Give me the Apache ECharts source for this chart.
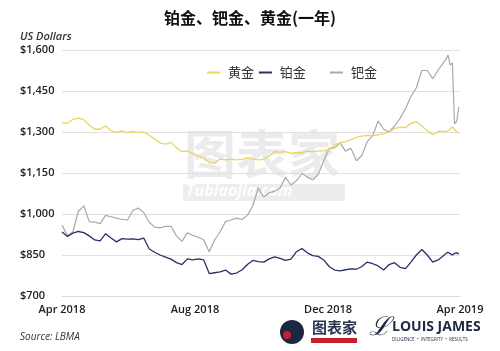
<!DOCTYPE html>
<html><head><meta charset="utf-8">
<script src="https://cdn.jsdelivr.net/npm/echarts@6/dist/echarts.min.js"></script>
<style>html,body{margin:0;padding:0;background:#fff}#c{width:500px;height:351px}</style>
</head><body><div id="c"></div>
<script>
const dates = ['2018-04-01','2018-04-06','2018-04-11','2018-04-16','2018-04-21','2018-04-26','2018-05-01','2018-05-06','2018-05-11','2018-05-16','2018-05-21','2018-05-26','2018-05-31','2018-06-05','2018-06-10','2018-06-15','2018-06-20','2018-06-25','2018-06-30','2018-07-05','2018-07-10','2018-07-15','2018-07-20','2018-07-25','2018-07-30','2018-08-04','2018-08-09','2018-08-14','2018-08-19','2018-08-24','2018-08-29','2018-09-03','2018-09-08','2018-09-13','2018-09-18','2018-09-23','2018-09-28','2018-10-03','2018-10-08','2018-10-13','2018-10-18','2018-10-23','2018-10-28','2018-11-02','2018-11-07','2018-11-12','2018-11-17','2018-11-22','2018-11-27','2018-12-02','2018-12-07','2018-12-12','2018-12-17','2018-12-22','2018-12-27','2019-01-01','2019-01-06','2019-01-11','2019-01-16','2019-01-21','2019-01-26','2019-01-31','2019-02-05','2019-02-10','2019-02-15','2019-02-20','2019-02-25','2019-03-02','2019-03-07','2019-03-12','2019-03-17','2019-03-19','2019-03-21','2019-03-23','2019-03-25','2019-03-27','2019-03-29','2019-03-31'];
const gold = [1334,1332,1346,1351,1345,1325,1310,1310,1322,1305,1299,1304,1298,1302,1298,1300,1288,1275,1260,1256,1262,1242,1228,1230,1222,1212,1205,1188,1186,1201,1198,1201,1198,1200,1205,1201,1198,1200,1212,1228,1226,1228,1222,1225,1224,1230,1228,1230,1232,1236,1252,1260,1265,1272,1280,1285,1288,1287,1290,1294,1300,1312,1318,1316,1332,1338,1322,1305,1290,1302,1302,1300,1306,1310,1318,1310,1300,1297];
const platinum = [934,918,930,936,932,920,905,902,928,912,898,910,908,909,906,912,872,860,850,842,835,822,815,836,832,836,832,782,785,788,795,780,784,795,815,830,826,824,836,843,838,830,835,862,874,858,848,845,832,808,795,792,796,799,798,808,824,818,810,795,815,822,805,800,824,850,870,850,824,832,848,855,860,855,850,856,858,854];
const palladium = [960,920,935,1010,1030,972,970,965,995,990,985,980,978,1013,1022,1005,970,952,949,955,955,920,900,931,922,915,905,862,905,935,972,978,985,980,995,1030,1095,1062,1078,1083,1095,1134,1106,1122,1148,1135,1125,1145,1195,1240,1242,1260,1230,1240,1195,1214,1265,1288,1340,1310,1300,1322,1350,1385,1430,1462,1525,1525,1495,1527,1555,1565,1582,1545,1553,1330,1340,1392];
const yTicks = [700,850,1000,1150,1300,1450,1600];
const xTicks = ['2018-04-01','2018-08-01','2018-12-01','2019-04-01'];
const MONTHS = ['Jan','Feb','Mar','Apr','May','Jun','Jul','Aug','Sep','Oct','Nov','Dec'];

function ts(s){const p=s.split('-').map(Number);return new Date(p[0],p[1]-1,p[2]).getTime();}
function pairs(vals){return dates.map((d,i)=>[ts(d),vals[i]]);}
const F = '"Open Sans","Noto Sans CJK SC",sans-serif';
const CJK = '"Noto Sans CJK SC",sans-serif';

const chart = echarts.init(document.getElementById('c'));
chart.setOption({
  backgroundColor:'#fff',
  animation:false,
  title:{text:'铂金、钯金、黄金(一年)',left:'center',top:5,
    textStyle:{fontFamily:CJK,fontSize:16,fontWeight:'bold',color:'#111'}},
  legend:[
    {left:202,top:61,itemWidth:13,itemHeight:2,itemGap:5,icon:'rect',data:['黄金','铂金'],
     formatter:' {name}',textStyle:{fontFamily:CJK,fontSize:13,color:'#333'}},
    {left:325,top:61,itemWidth:13,itemHeight:2,icon:'rect',data:['钯金'],
     formatter:' {name}',textStyle:{fontFamily:CJK,fontSize:13,color:'#333'}}
  ],
  grid:{left:62,right:40,top:50,bottom:55,containLabel:false},
  xAxis:{type:'value',min:ts('2018-04-01'),max:ts('2019-04-01'),
    axisLine:{show:true,lineStyle:{color:'#dcdcdc'}},axisTick:{show:false},
    splitLine:{show:false},
    axisLabel:{customValues:xTicks.map(ts),margin:8,color:'#222',fontFamily:F,fontSize:11,fontWeight:600,
      formatter:v=>{const d=new Date(v);return MONTHS[d.getMonth()]+' '+d.getFullYear();}}},
  yAxis:{type:'value',min:700,max:1600,
    axisLine:{show:false},
    axisTick:{show:false,customValues:yTicks},
    splitLine:{show:true,lineStyle:{color:'#e0e0e0',width:1}},
    axisLabel:{customValues:yTicks,align:'left',margin:42,color:'#222',fontFamily:F,fontSize:11,fontWeight:600,
      formatter:v=>'$'+v.toLocaleString('en-US')}},
  graphic:[
    {type:'text',left:20,top:31,style:{text:'US Dollars',font:'italic 600 11px "Open Sans",sans-serif',fill:'#333'}},
    {type:'text',left:20,top:332,style:{text:'Source: LBMA',font:'italic 10px "Open Sans",sans-serif',fill:'#333'}},
    {type:'text',left:184,top:128,z:-1,style:{text:'图表家',font:'bold 52px "Noto Sans CJK SC"',fill:'rgba(0,0,0,0.08)'}},
    {type:'rect',left:183,top:184,z:-1,shape:{width:162,height:17},style:{fill:'rgba(0,0,0,0.07)'}},
    {type:'text',left:186,top:183,z:-1,style:{text:'Tubiaojia.com',font:'italic bold 16px "Open Sans"',fill:'rgba(255,255,255,0.95)'}},
    {type:'circle',shape:{cx:292,cy:332,r:12},style:{fill:'#1d2740'}},
    {type:'circle',shape:{cx:287,cy:335,r:4},style:{fill:'#c8202a'}},
    {type:'text',left:312,top:320,style:{text:'图表家',font:'bold 15px "Noto Sans CJK SC"',fill:'#2a3550'}},
    {type:'rect',left:311,top:338,shape:{width:46,height:5},style:{fill:'#c8202a'}},
    {type:'text',left:369,top:315,style:{text:'ℒ',font:'italic 26px "DejaVu Serif"',fill:'#1d2740'}},
    {type:'text',left:392,top:320,style:{text:'LOUIS JAMES',font:'bold 14px "Open Sans"',fill:'#1d2740'}},
    {type:'text',left:392,top:337,style:{text:'DILIGENCE  •  INTEGRITY  •  RESULTS',font:'4.5px "Open Sans"',fill:'#1d2740'}}
  ],
  series:[
    {name:'黄金',type:'line',data:pairs(gold),showSymbol:false,symbol:'none',color:'#e8d65e',lineStyle:{width:1.3,color:'#e8d65e'},z:3},
    {name:'铂金',type:'line',data:pairs(platinum),showSymbol:false,symbol:'none',color:'#26306a',lineStyle:{width:1.3,color:'#26306a'},z:3},
    {name:'钯金',type:'line',data:pairs(palladium),showSymbol:false,symbol:'none',color:'#a9a9a9',lineStyle:{width:1.2,color:'#a9a9a9'},z:2}
  ]
});
</script></body></html>
